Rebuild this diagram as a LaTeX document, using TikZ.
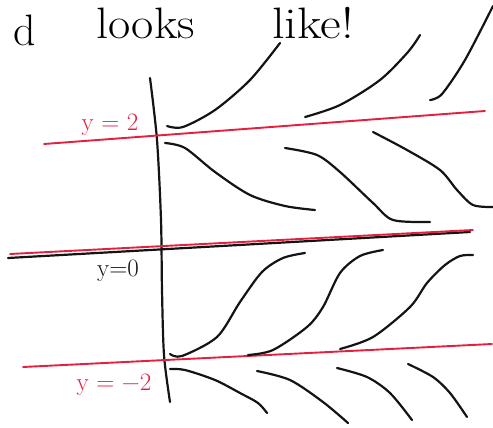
\documentclass[tikz,border=0pt]{standalone}
\usepackage{fontspec}
\setmainfont{Latin Modern Roman}
\definecolor{penred}{RGB}{228,32,64}
\definecolor{penblack}{RGB}{20,20,20}
\begin{document}
\begin{tikzpicture}[x=1pt,y=-1pt,
  curve/.style={draw=penblack,line width=2.2pt,line cap=round,line join=round},
  redline/.style={draw=penred,line width=1.9pt,line cap=round},
  axisline/.style={draw=penblack,line width=2.2pt,line cap=round},
  hand/.style={inner sep=0pt,anchor=base},
  headtext/.style={hand,font=\fontsize{44}{52}\selectfont},
  redlabel/.style={hand,text=penred,font=\fontsize{25}{30}\selectfont},
  blacklabel/.style={hand,text=penblack,font=\fontsize{25}{30}\selectfont}]
\useasboundingbox (0,0) rectangle (493,428);
\clip (0,0) rectangle (493,428);
% heading text
\node[headtext,anchor=base east] (hd) at (36,46) {d};
\node[headtext,anchor=base west,xscale=1.1] (hlooks) at (96,39) {looks};
\node[headtext,anchor=base west,xscale=1.15] (hlike) at (272,39) {like!};
% vertical axis
\draw[axisline] plot[smooth] coordinates {(150,78) (157,140) (161,220) (162,290) (164,355) (170,402)};
% horizontal black axis y=0
\draw[axisline] (8,258) -- (470,232);
% red lines
\draw[redline] (44,144) -- (485,111);
\draw[redline] (10,254) -- (473,230);
\draw[redline] (23,367) -- (492,344);
% labels
\node[redlabel] (l2) at (110,130) {y = 2};
\node[blacklabel,anchor=base west] (l0) at (97,276) {y=0};
\node[redlabel] (lm2) at (114,390) {y = −2};
% top band: increasing
\draw[curve] plot[smooth] coordinates {(167,126) (183,127) (215,110) (250,80) (280,43)};
\draw[curve] plot[smooth] coordinates {(305,117) (340,105) (380,80) (408,52) (420,35)};
\draw[curve] plot[smooth] coordinates {(430,100) (442,94) (465,60) (493,6)};
% band between y=2 and y=0: decreasing
\draw[curve] plot[smooth] coordinates {(165,143) (185,148) (215,172) (250,195) (285,206) (315,210)};
\draw[curve] plot[smooth] coordinates {(285,148) (317,155) (340,172) (373,203) (393,220) (430,222)};
\draw[curve] plot[smooth] coordinates {(373,132) (407,150) (440,170) (457,190) (473,205) (493,207)};
% band between y=0 and y=-2: increasing
\draw[curve] plot[smooth] coordinates {(170,354) (182,356) (217,337) (240,302) (262,272) (283,258) (305,253)};
\draw[curve] plot[smooth] coordinates {(248,355) (273,350) (307,327) (323,307) (340,273) (360,256) (383,250)};
\draw[curve] plot[smooth] coordinates {(340,349) (373,337) (410,307) (427,283) (445,265) (460,256) (473,255)};
% bottom band: decreasing
\draw[curve] plot[smooth] coordinates {(170,369) (185,370) (215,380) (240,393) (258,403) (267,413)};
\draw[curve] plot[smooth] coordinates {(257,371) (290,380) (323,402) (348,423)};
\draw[curve] plot[smooth] coordinates {(337,368) (367,377) (390,393) (412,420)};
\draw[curve] plot[smooth] coordinates {(408,364) (433,377) (450,393) (467,417)};
\end{tikzpicture}
\end{document}
